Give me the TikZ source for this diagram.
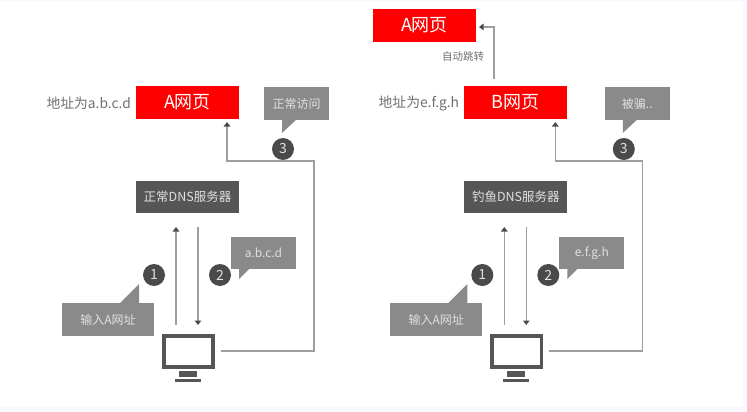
\documentclass[tikz,border=0pt]{standalone}
\usepackage{fontspec}
\setmainfont{Noto Sans CJK SC}
\usetikzlibrary{arrows.meta}
\definecolor{pagered}{HTML}{FE0000}
\definecolor{dnsgray}{HTML}{565656}
\definecolor{callgray}{HTML}{8A8A8A}
\definecolor{linegray}{HTML}{9E9E9E}
\definecolor{tipgray}{HTML}{4A4A4A}
\definecolor{labgray}{HTML}{707070}
\definecolor{edgetint}{HTML}{F8F9FC}
\tikzset{
  x=1pt,y=-1pt,
  pagebox/.style={fill=pagered,text=white,minimum width=103pt,minimum height=33pt,inner sep=0pt,font=\fontsize{18}{18}\selectfont},
  dnsbox/.style={fill=dnsgray,text=white!88!black,minimum width=103pt,minimum height=32pt,inner sep=0pt,font=\fontsize{12.5}{13}\selectfont},
  callbox/.style={fill=callgray,text=white!88!black,inner sep=0pt,font=\fontsize{12}{12}\selectfont},
  numdot/.style={circle,fill=tipgray,text=white!88!black,minimum size=22pt,inner sep=0pt,font=\fontsize{14}{14}\selectfont},
  addr/.style={text=labgray,inner sep=0pt,font=\fontsize{13.8}{14}\selectfont},
  link/.style={draw=linegray,line width=1.2pt},
  linkarrow/.style={link,-{Triangle[length=4.5pt,width=6.5pt,color=tipgray]}},
  screen/.style={draw=dnsgray,line width=3.6pt,fill=white,minimum width=49.5pt,minimum height=31.5pt,inner sep=0pt}
}
\newcommand{\panel}[8]{%
  % #1 prefix, #2 x offset, #3 page label, #4 addr, #5 dns, #6 callout3 text, #7 callout2 text, #8 callout3 extra offset
  \begin{scope}[shift={(#2,0)}]
    \node[pagebox] (#1page) at (187.5,102.5) {#3};
    \node[addr,anchor=east] (#1addr) at (131,103) {#4};
    \node[dnsbox] (#1dns) at (187.5,197) {#5};
    \node[screen] (#1mon) at (188.5,351.5) {};
    \fill[dnsgray] (179,371) rectangle (197,377);
    \fill[dnsgray] (175,379) rectangle (201,382);
    \begin{scope}[shift={(#8,0)}]
      \node[callbox,minimum width=65pt,minimum height=33pt] (#1callc) at (296.5,103.5) {#6};
      \fill[callgray] (282,119) -- (282,133) -- (297,119) -- cycle;
      \node[numdot] (#1nc) at (283,149) {3};
    \end{scope}
    \node[callbox,minimum width=65pt,minimum height=32pt] (#1callb) at (263.5,253) {#7};
    \fill[callgray] (239,268) -- (239,279) -- (250,268) -- cycle;
    \node[numdot] (#1nb) at (220,275) {2};
    \node[callbox,minimum width=92pt,minimum height=33pt] (#1calla) at (108,319.5) {输入A网址};
    \fill[callgray] (119,304) -- (139,284) -- (139,304) -- cycle;
    \node[numdot] (#1na) at (154,275) {1};
    \coordinate (#1upS) at (176,325);
    \coordinate (#1upE) at (176,227);
    \coordinate (#1dnS) at (198,227);
    \coordinate (#1dnE) at (198,325);
    \draw[linkarrow] (#1upS) -- (#1upE);
    \draw[linkarrow] (#1dnS) -- (#1dnE);
    \coordinate (#1go) at (221,351);
    \coordinate (#1c1) at (314,351);
    \coordinate (#1c2) at (314,161);
    \coordinate (#1c3) at (227,161);
    \coordinate (#1c4) at (227,122);
    \draw[linkarrow] (#1go) -- (#1c1) -- (#1c2) -- (#1c3) -- (#1c4);
  \end{scope}
}
\begin{document}
\begin{tikzpicture}
\useasboundingbox (0,0) rectangle (747,412);
\fill[edgetint] (0,0) rectangle (747,412);
\fill[white] (0,1) rectangle (743,407);
\panel{l}{0}{A网页}{地址为a.b.c.d}{正常DNS服务器}{正常访问}{a.b.c.d}{0}
\panel{r}{328.3}{B网页}{地址为e.f.g.h}{钓鱼DNS服务器}{被骗..}{e.f.g.h}{12.5}
\node[pagebox] (top) at (424.5,25.5) {A网页};
\coordinate (topS) at (494,79);
\coordinate (topM) at (494,27);
\coordinate (topE) at (479,27);
\draw[linkarrow] (topS) -- (topM) -- (topE);
\node[text=labgray,inner sep=0pt,font=\fontsize{10.5}{11}\selectfont] (jump) at (463,57) {自动跳转};
\end{tikzpicture}
\end{document}
